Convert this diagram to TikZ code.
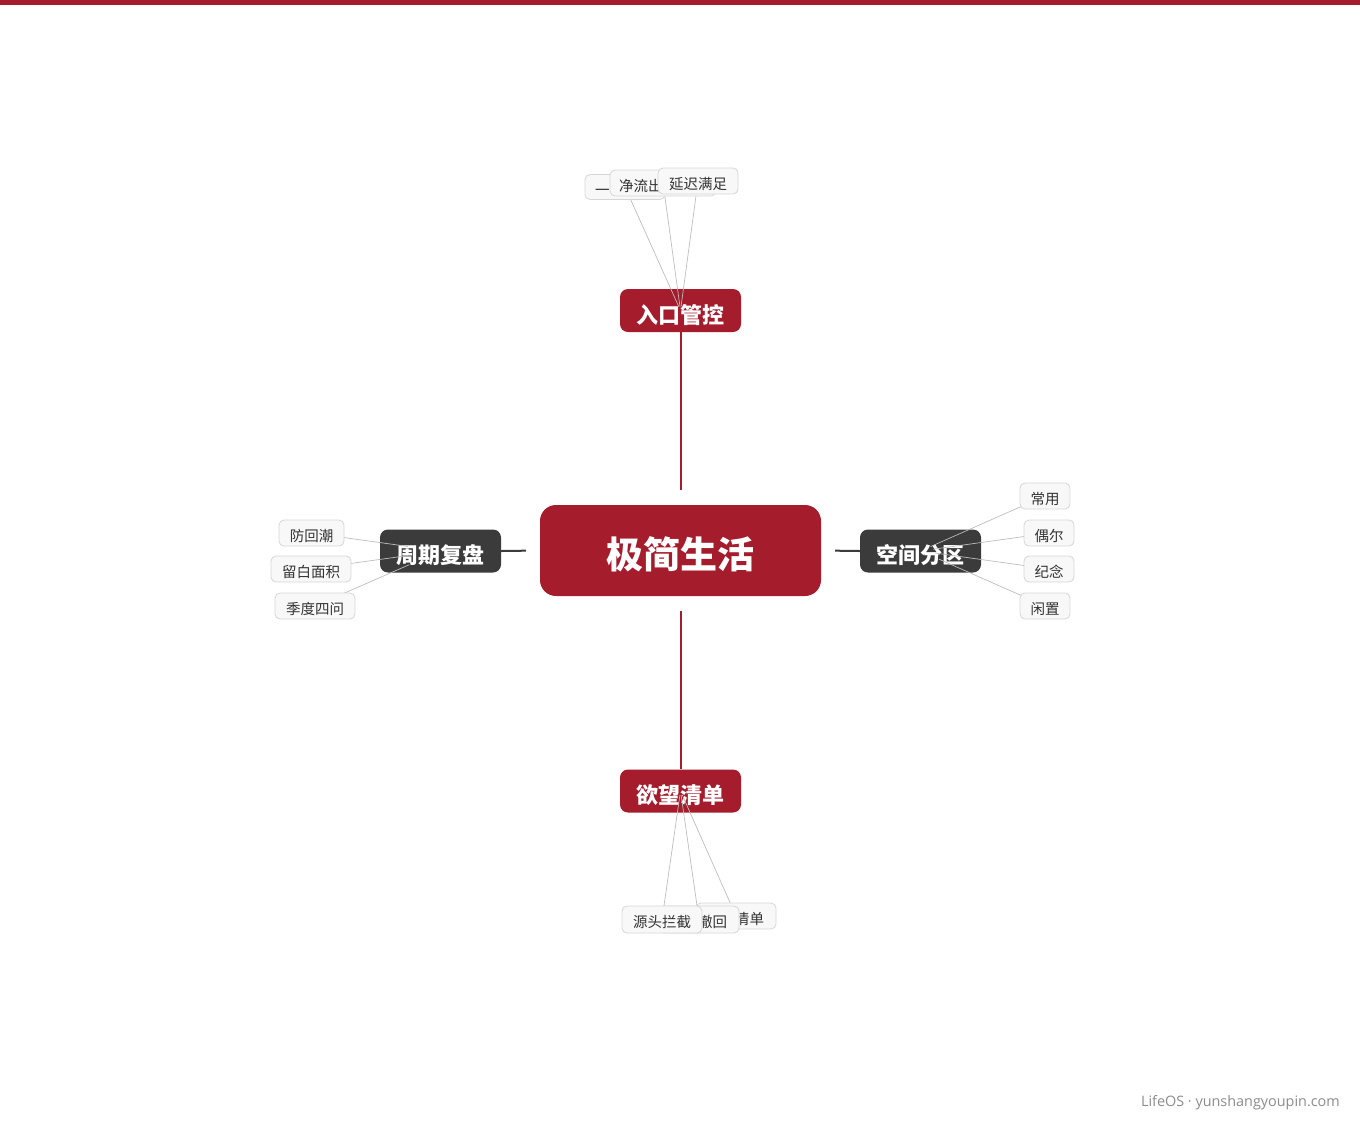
\documentclass[tikz,border=0pt]{standalone}
\usepackage{fontspec}
\setmainfont{Noto Sans CJK SC}
\newfontfamily\footfont{Open Sans}
\definecolor{brandred}{HTML}{A51C2C}
\definecolor{darknode}{HTML}{3B3B3B}
\definecolor{leafborder}{HTML}{D6D6D6}
\definecolor{leaffill}{HTML}{F8F8F8}
\definecolor{leaftext}{HTML}{333333}
\definecolor{leafline}{HTML}{BDBDBD}
\definecolor{foottext}{HTML}{8C8C8C}
\begin{document}
\begin{tikzpicture}[x=1pt,y=-1pt,
  rootnode/.style={fill=brandred, rounded corners=16pt, minimum width=281pt, minimum height=91pt, inner sep=0pt, text=white, font=\fontsize{37}{40}\selectfont\bfseries, text height=35pt, text depth=0pt},
  rednode/.style={fill=brandred, rounded corners=8pt, minimum width=121pt, minimum height=43pt, inner sep=0pt, text=white, font=\fontsize{22}{24}\selectfont\bfseries, text height=25pt, text depth=0pt},
  darkbox/.style={rednode, fill=darknode},
  leaf/.style={draw=leafborder, fill=leaffill, line width=0.8pt, rounded corners=5pt, minimum height=26pt, inner xsep=10pt, inner ysep=0pt, text=leaftext, font=\fontsize{14.5}{16}\selectfont, text height=16pt, text depth=0pt},
  redlink/.style={draw=brandred, line width=2pt},
  darklink/.style={draw=darknode, line width=2pt},
  leaflink/.style={draw=leafline, line width=0.7pt}
]
\useasboundingbox (0,0) rectangle (1360,1120);
\fill[brandred] (0,0) rectangle (1360,4.5);

% root and main branches
\node[rootnode] (root) at (680.5,550.5) {极简生活};
\node[rednode] (entry) at (680.5,310.5) {入口管控};
\node[rednode] (wish) at (680.5,791) {欲望清单};
\node[darkbox] (review) at (440.5,551) {周期复盘};
\node[darkbox] (space) at (920.5,551) {空间分区};

\draw[redlink, shorten <=15pt] (root.north) -- (entry.south);
\draw[redlink, shorten <=15pt] (root.south) -- (wish.north);
\draw[darklink, shorten <=14pt] (root.west) -- (review.east);
\draw[darklink, shorten <=14pt] (root.east) -- (space.west);

% leaf positions (coordinates only, boxes drawn after links)
\coordinate (tApos) at (625,187);
\coordinate (tBpos) at (663,183);
\coordinate (tCpos) at (698,181);
\coordinate (l1pos) at (311.5,533);
\coordinate (l2pos) at (311,569);
\coordinate (l3pos) at (315,606);
\coordinate (r1pos) at (1045,496);
\coordinate (r2pos) at (1049,533);
\coordinate (r3pos) at (1049,569);
\coordinate (r4pos) at (1045,606);
\coordinate (b1pos) at (662,919.5);
\coordinate (b2pos) at (699,919.5);
\coordinate (b3pos) at (736,916);

% leaf links
\draw[leaflink, shorten >=4pt] (tApos) -- (entry.center);
\draw[leaflink, shorten >=4pt] (tBpos) -- (entry.center);
\draw[leaflink, shorten >=4pt] (tCpos) -- (entry.center);
\draw[leaflink, shorten >=33pt] (l1pos) -- (review.center);
\draw[leaflink, shorten >=33pt] (l2pos) -- (review.center);
\draw[leaflink, shorten >=34pt] (l3pos) -- (review.center);
\draw[leaflink, shorten >=11pt] (r1pos) -- (space.center);
\draw[leaflink, shorten >=13pt] (r2pos) -- (space.center);
\draw[leaflink, shorten >=15pt] (r3pos) -- (space.center);
\draw[leaflink, shorten >=20pt] (r4pos) -- (space.center);
\draw[leaflink, shorten >=4pt] (b1pos) -- (wish.center);
\draw[leaflink, shorten >=4pt] (b2pos) -- (wish.center);
\draw[leaflink, shorten >=4pt] (b3pos) -- (wish.center);

% top leaves (back to front)
\node[leaf, minimum height=25pt, text width=60pt, align=left] (tA) at (tApos) {一};
\node[leaf, text width=88pt, inner xsep=9pt, align=left] (tB) at (tBpos) {净流出};
\node[leaf, minimum width=80pt] (tC) at (tCpos) {延迟满足};

% left leaves
\node[leaf, minimum width=65pt] (l1) at (l1pos) {防回潮};
\node[leaf, minimum width=80pt] (l2) at (l2pos) {留白面积};
\node[leaf, minimum width=80pt] (l3) at (l3pos) {季度四问};

% right leaves
\node[leaf, minimum width=50pt] (r1) at (r1pos) {常用};
\node[leaf, minimum width=50pt] (r2) at (r2pos) {偶尔};
\node[leaf, minimum width=50pt] (r3) at (r3pos) {纪念};
\node[leaf, minimum width=50pt] (r4) at (r4pos) {闲置};

% bottom leaves (back to front)
\node[leaf, text width=56pt, inner xsep=12pt, align=right] (b3) at (b3pos) {清单};
\node[leaf, minimum height=27pt, text width=56pt, inner xsep=12pt, align=right] (b2) at (b2pos) {撤回};
\node[leaf, minimum height=27pt, minimum width=80pt] (b1) at (b1pos) {源头拦截};

% footer
\node[anchor=east, inner sep=0pt, text=foottext, font=\footfont\fontsize{14.4}{16}\selectfont] (footer) at (1340,1102.5) {LifeOS · yunshangyoupin.com};
\end{tikzpicture}
\end{document}
